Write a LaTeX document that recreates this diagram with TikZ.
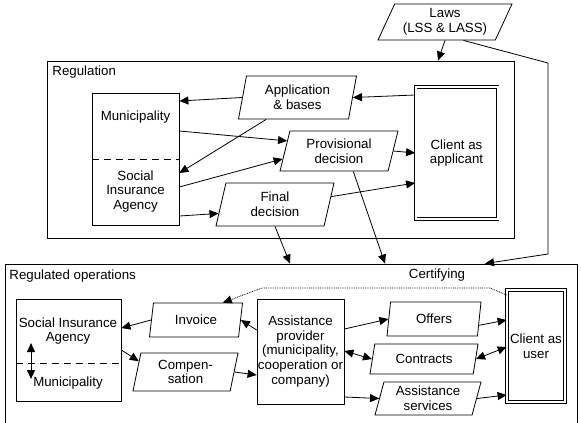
\documentclass[tikz,border=0pt]{standalone}
\usepackage{fontspec}
\setmainfont{Liberation Sans}
\usetikzlibrary{shapes.geometric,arrows.meta}

\tikzset{
  box/.style={draw, rectangle, inner sep=0pt, align=center},
  para/.style={draw, trapezium, trapezium left angle=#1, trapezium right angle=180-#1,
    trapezium stretches body, inner sep=0pt, align=center},
  para/.default=68,
  frame/.style={draw, rectangle, inner sep=0pt},
  client/.style={draw, double, double distance=2pt, inner sep=0pt, align=center},
  arr/.style={-{Triangle[length=9pt,width=8pt]}},
  arrs/.style={{Triangle[length=9pt,width=8pt]}-{Triangle[length=9pt,width=8pt]}},
  lbl/.style={inner sep=0pt, anchor=west},
}

\begin{document}
\begin{tikzpicture}[x=1pt,y=-1pt,line width=0.8pt,font=\fontsize{13.3}{14.8}\selectfont]
\useasboundingbox[fill=white] (0,0) rectangle (581,423);
\begin{scope}
\clip (0,0) rectangle (581,423);

% frames
\node[frame, minimum width=467, minimum height=177] (reg) at (280.5,149.5) {};
\node[lbl] (regtitle) at (52,72) {Regulation};
\node[frame, minimum width=572, minimum height=200] (regops) at (291,364) {};
\node[lbl] (opstitle) at (9,276) {Regulated operations};
\node[inner sep=0pt] (certtitle) at (437,275) {Certifying};

% regulation
\node[para=58, minimum width=134, minimum height=36] (laws) at (445,22) {Laws\\(LSS \& LASS)};
\node[box, minimum width=87, minimum height=132] (regmun) at (135.5,159) {};
\node (munname) at (135.5,117) {Municipality};
\node[align=center] (sianame) at (135.5,191.5) {Social\\Insurance\\Agency};
\draw[dashed, dash pattern=on 7pt off 5pt] (regmun.west) -- (regmun.east);
\node[para=72, minimum width=118, minimum height=43] (app) at (297.5,97.5) {Application\\\& bases};
\node[para, minimum width=118, minimum height=40] (prov) at (339,151) {Provisional\\decision};
\node[para, minimum width=118, minimum height=43] (final) at (275,204.5) {Final\\decision};
\node[client, minimum width=82, minimum height=132.5] (cliapp) at (456.5,153) {Client as\\applicant};

\draw[arr] (cliapp.west |- 0,95) -- (app.east);
\draw[arr] (app.west) -- (regmun.east |- 0,101);
\draw[arr] (app.215) -- (regmun.east |- 0,173);
\draw[arr] (regmun.east |- 0,131) -- (prov.169);
\draw[arr] (regmun.east |- 0,187) -- (prov.188);
\draw[arr] (prov.east) -- (cliapp.west |- 0,153);
\draw[arr] (regmun.east |- 0,216) -- (final.189);
\draw[arr] (final.8) -- (cliapp.west |- 0,183);
\draw[arr] (laws.south) -- (reg.north -| 438,0);
\draw[arr] (final.south) -- (regops.north -| 290,0);
\draw[arr] (prov.-55) -- (regops.north -| 385,0);
\coordinate (lawsbend) at (548,63);
\coordinate (lawsdown) at (548,254);
\draw[arr] (laws.-45) -- (lawsbend) -- (lawsdown) -- (regops.north -| 485,0);

% regulated operations
\node[box, minimum width=105, minimum height=102] (lowsia) at (68.5,350) {};
\node[align=center] (lowsianame) at (68,331) {Social Insurance\\Agency};
\node (lowmunname) at (68,383) {Municipality};
\draw[dashed, dash pattern=on 7pt off 5pt] (lowsia.west |- 0,363) -- (lowsia.east |- 0,363);
\coordinate (swaptop) at (31,343);
\coordinate (swapbot) at (31,379);
\draw[arrs] (swaptop) -- (swapbot);
\node[para, minimum width=93, minimum height=34] (invoice) at (196,320) {Invoice};
\node[para=72, minimum width=105, minimum height=38] (comp) at (185.5,372) {Compen-\\sation};
\node[box, minimum width=87, minimum height=105] (provider) at (300.5,351.5)
  {Assistance\\provider\\(municipality,\\cooperation or\\company)};
\node[para=70, minimum width=94, minimum height=34] (offers) at (434,319) {Offers};
\node[para=63, minimum width=108, minimum height=30] (contracts) at (424,359) {Contracts};
\node[para=70, minimum width=106, minimum height=33] (services) at (428,398.5) {Assistance\\services};
\node[client, minimum width=58, minimum height=111.5] (cliuser) at (536,346) {Client as\\user};

\draw[arr] (invoice.west) -- (lowsia.east |- 0,328);
\draw[arr] (lowsia.east |- 0,350) -- (comp.167);
\draw[arr] (comp.east) -- (provider.west |- 0,375);
\draw[arr] (provider.west |- 0,330) -- (invoice.east);
\coordinate (certa) at (490,288);
\coordinate (certb) at (262,288);
\draw[arr, densely dotted] (cliuser.west |- 0,295) -- (certa) -- (certb) -- (invoice.33);
\draw[arr] (provider.east |- 0,329) -- (offers.west);
\draw[arrs] (provider.east |- 0,351) -- (contracts.west);
\draw[arr] (provider.east |- 0,397) -- (services.west);
\draw[arr] (offers.-8) -- (cliuser.west |- 0,320);
\draw[arrs] (contracts.east) -- (cliuser.west |- 0,347);
\draw[arr] (services.east) -- (cliuser.west |- 0,395);
\end{scope}
\end{tikzpicture}
\end{document}
